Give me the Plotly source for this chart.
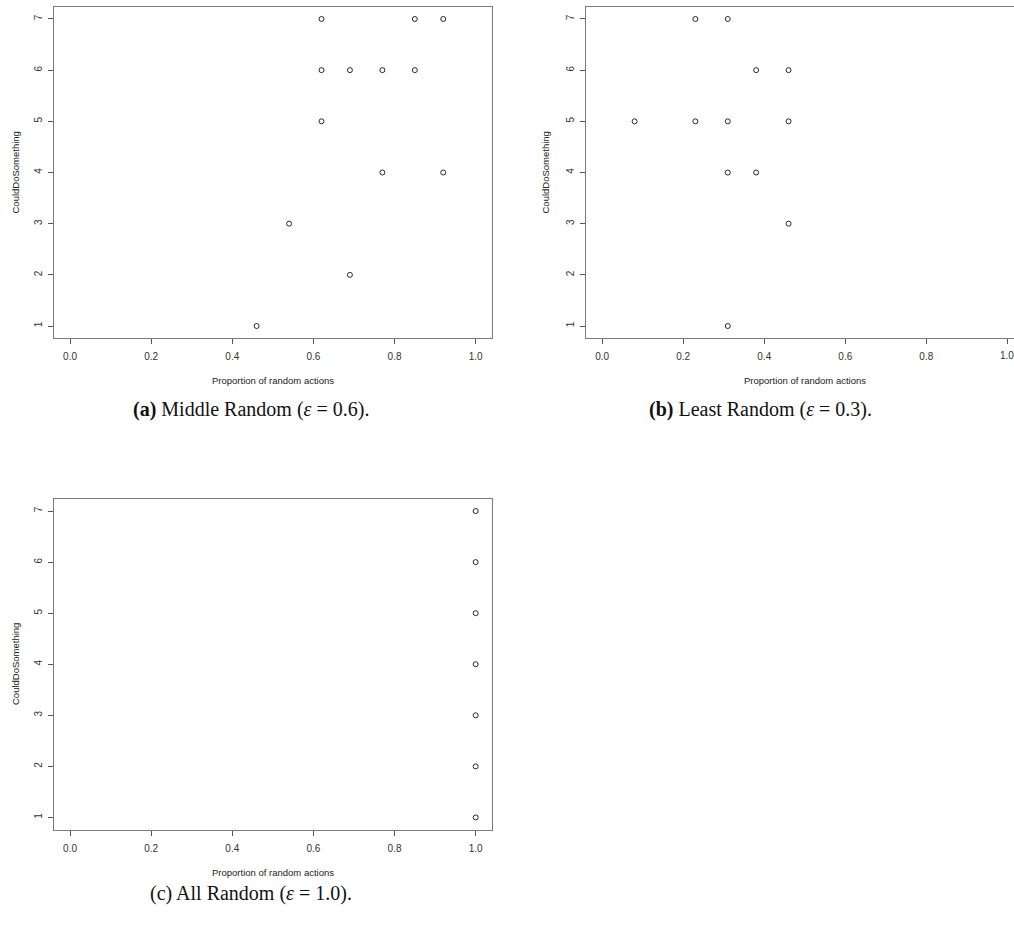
import plotly.graph_objects as go

W, H = 1014, 940

# Panel (a) Middle Random
a_x = [0.62, 0.85, 0.92, 0.62, 0.69, 0.77, 0.85, 0.62, 0.77, 0.92, 0.54, 0.69, 0.46]
a_y = [7, 7, 7, 6, 6, 6, 6, 5, 4, 4, 3, 2, 1]
# Panel (b) Least Random
b_x = [0.23, 0.31, 0.38, 0.46, 0.08, 0.23, 0.31, 0.46, 0.31, 0.38, 0.46, 0.31]
b_y = [7, 7, 6, 6, 5, 5, 5, 5, 4, 4, 3, 1]
# Panel (c) All Random
c_x = [1.0, 1.0, 1.0, 1.0, 1.0, 1.0, 1.0]
c_y = [7, 6, 5, 4, 3, 2, 1]

x_ticks = [0.0, 0.2, 0.4, 0.6, 0.8, 1.0]
x_ticklabels = ["0.0", "0.2", "0.4", "0.6", "0.8", "1.0"]
y_ticks = [1, 2, 3, 4, 5, 6, 7]
x_title = "Proportion of random actions"
y_title = "CouldDoSomething"
captions = ["<b>(a)</b> Middle Random (<i>ε</i> = 0.6).",
            "<b>(b)</b> Least Random (<i>ε</i> = 0.3).",
            "(c) All Random (<i>ε</i> = 1.0)."]


def px(x):
    return x / W


def py(y):
    return 1 - y / H


fig = go.Figure()
marker = dict(symbol="circle-open", size=5, color="#111", line=dict(width=0.9, color="#111"))
fig.add_trace(go.Scatter(x=a_x, y=a_y, mode="markers", marker=marker, xaxis="x", yaxis="y"))
fig.add_trace(go.Scatter(x=b_x, y=b_y, mode="markers", marker=marker, xaxis="x2", yaxis="y2"))
fig.add_trace(go.Scatter(x=c_x, y=c_y, mode="markers", marker=marker, xaxis="x3", yaxis="y3"))

tickfont = dict(family="Liberation Sans, Arial", size=10, color="#333")
boxcol = "#7a7a7a"


def xax(domain, anchor, rng, mirror=True):
    return dict(domain=domain, anchor=anchor, range=rng, tickvals=x_ticks, ticktext=x_ticklabels,
                ticks="outside", ticklen=5, tickwidth=1, tickcolor="#555", ticklabelstandoff=4,
                showline=True, linecolor=boxcol, linewidth=1.3, mirror=mirror,
                showgrid=False, zeroline=False, tickfont=tickfont, fixedrange=True)


def yax(domain, anchor, mirror=True):
    return dict(domain=domain, anchor=anchor, range=[0.76, 7.24], tickvals=y_ticks,
                ticks="outside", ticklen=5, tickwidth=1, tickcolor="#555", tickangle=-90,
                ticklabelstandoff=2,
                showline=True, linecolor=boxcol, linewidth=1.3, mirror=mirror,
                showgrid=False, zeroline=False, tickfont=tickfont, fixedrange=True)


ax_x = [px(53.8), px(491.9)]
a_ydom = [py(338.3), py(6.7)]
c_ydom = [py(829.7), py(498.8)]
b_xdom = [px(586), 1.0]

fig.update_layout(
    width=W, height=H, margin=dict(l=0, r=0, t=0, b=0),
    paper_bgcolor="white", plot_bgcolor="white", showlegend=False,
    xaxis=xax(ax_x, "y", [-0.04, 1.04]),
    yaxis=yax(a_ydom, "x"),
    xaxis2=xax(b_xdom, "y2", [-0.04, 1.0165]),
    yaxis2=yax(a_ydom, "x2", mirror=False),
    xaxis3=xax(ax_x, "y3", [-0.04, 1.04]),
    yaxis3=yax(c_ydom, "x3"),
)

lblfont = dict(family="Liberation Sans, Arial", size=9.5, color="#222")
capfont = dict(family="Liberation Serif, Times New Roman", size=20, color="#111")
ann = []
# x titles
for xc, yc in [(272.9, 380), (805, 380), (272.9, 872)]:
    ann.append(dict(x=px(xc), y=py(yc), xref="paper", yref="paper", text=x_title,
                    showarrow=False, font=lblfont, xanchor="center", yanchor="middle"))
# y titles
for xc, yc in [(15, 172.5), (545, 172.5), (15, 664)]:
    ann.append(dict(x=px(xc), y=py(yc), xref="paper", yref="paper", text=y_title,
                    showarrow=False, font=lblfont, textangle=-90, xanchor="center", yanchor="middle"))
# panel (b) last tick label, clipped by the page edge in the original
ann.append(dict(x=x_ticks[-1], y=py(355.5), xref="x2", yref="paper", text=x_ticklabels[-1],
                showarrow=False, font=tickfont, xanchor="center", yanchor="middle"))
# captions
for (xc, yc), t in zip([(251, 409), (760, 409), (251, 893)], captions):
    ann.append(dict(x=px(xc), y=py(yc), xref="paper", yref="paper", text=t,
                    showarrow=False, font=capfont, xanchor="center", yanchor="middle"))
fig.update_layout(annotations=ann)

fig.write_html("out.html")
